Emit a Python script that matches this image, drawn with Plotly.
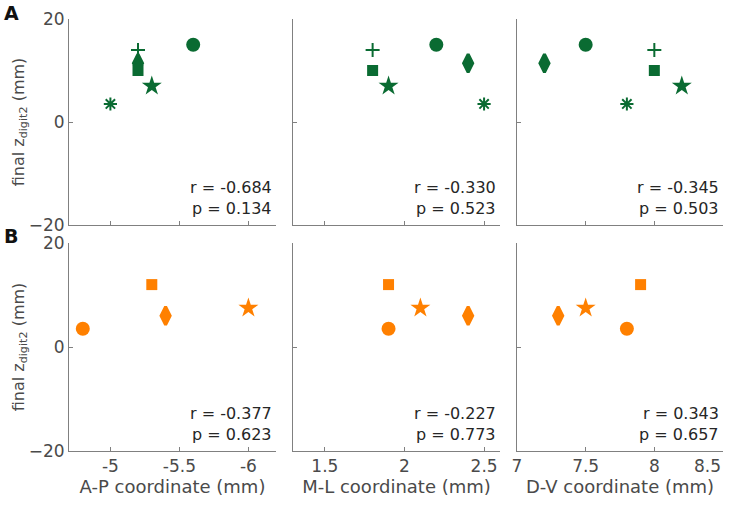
import plotly.graph_objects as go

# ---- data ----
symbols_A = ["circle", "cross-thin-open", "diamond-tall", "square", "star", "asterisk-open"]
ap_A = [-5.6, -5.2, -5.2, -5.2, -5.3, -5.0]
ml_A = [2.2, 1.8, 2.4, 1.8, 1.9, 2.5]
dv_A = [7.5, 8.0, 7.2, 8.0, 8.2, 7.8]
z_A = [15, 14, 11.4, 10, 7, 3.5]

symbols_B = ["circle", "square", "diamond-tall", "star"]
ap_B = [-4.8, -5.3, -5.4, -6.0]
ml_B = [1.9, 1.9, 2.4, 2.1]
dv_B = [7.8, 7.9, 7.3, 7.5]
z_B = [3.5, 12, 6, 7.5]

r_A = ["-0.684", "-0.330", "-0.345"]
p_A = ["0.134", "0.523", "0.503"]
r_B = ["-0.377", "-0.227", "0.343"]
p_B = ["0.623", "0.773", "0.657"]

x_titles = ["A-P coordinate (mm)", "M-L coordinate (mm)", "D-V coordinate (mm)"]
x_ranges = [[-4.7, -6.2], [1.3, 2.6], [7.0, 8.5]]
x_ticks = [[-5, -5.5, -6], [1.5, 2, 2.5], [7, 7.5, 8, 8.5]]
x_ticktext = [["-5", "-5.5", "-6"], ["1.5", "2", "2.5"], ["7", "7.5", "8", ""]]
edge_tick_val = 8.5
edge_tick_text = "8.5"
y_ticks = [-20, 0, 20]

GREEN = "#0a6b32"
ORANGE = "#ff8000"
FONT = "DejaVu Sans"
W, H = 729, 506

size_map = {"circle": 14, "cross-thin-open": 10, "diamond-tall": 13, "square": 11,
            "star": 15, "asterisk-open": 11}
line_map = {"circle": 0, "cross-thin-open": 2, "diamond-tall": 3, "square": 0,
            "star": 0, "asterisk-open": 2}

x_dom_px = [(69, 276), (293, 500), (517, 723)]
y_dom_px = [(19, 225), (243, 451)]

fig = go.Figure()

rows = [
    (symbols_A, [ap_A, ml_A, dv_A], z_A, GREEN, r_A, p_A),
    (symbols_B, [ap_B, ml_B, dv_B], z_B, ORANGE, r_B, p_B),
]

annotations = []
for ri, (syms, xs_list, zs, col, rs, ps) in enumerate(rows):
    for ci in range(3):
        idx = ri * 3 + ci + 1
        xa = "x" if idx == 1 else f"x{idx}"
        ya = "y" if idx == 1 else f"y{idx}"
        xs = xs_list[ci]
        for s, xv, zv in zip(syms, xs, zs):
            fig.add_trace(go.Scatter(
                x=[xv], y=[zv], mode="markers", xaxis=xa, yaxis=ya,
                showlegend=False, cliponaxis=False, hoverinfo="skip",
                marker=dict(symbol=s, size=size_map[s], color=col,
                            line=dict(color=col, width=line_map[s])),
            ))
        xl = "xaxis" if idx == 1 else f"xaxis{idx}"
        yl = "yaxis" if idx == 1 else f"yaxis{idx}"
        x0, x1 = x_dom_px[ci]
        y0, y1 = y_dom_px[ri]
        common = dict(showline=True, linecolor="#808080", linewidth=1,
                      ticks="inside", ticklen=4, tickcolor="#808080",
                      showgrid=False, zeroline=False, automargin=False,
                      tickfont=dict(family=FONT, size=17, color="#4a4a4a"))
        fig.layout[xl] = dict(
            domain=[x0 / W, x1 / W], range=x_ranges[ci], anchor=ya,
            tickvals=x_ticks[ci], ticktext=x_ticktext[ci],
            showticklabels=(ri == 1),
            title=dict(text=x_titles[ci] if ri == 1 else "",
                       font=dict(family=FONT, size=18, color="#4a4a4a"), standoff=4),
            **common)
        fig.layout[yl] = dict(
            domain=[1 - y1 / H, 1 - y0 / H], range=[-20, 20], anchor=xa,
            tickvals=y_ticks, showticklabels=(ci == 0),
            title=dict(text="final z<sub>digit2</sub> (mm)" if ci == 0 else "",
                       font=dict(family=FONT, size=16, color="#4a4a4a"), standoff=0),
            **common)
        annotations.append(dict(
            text=f"r = {rs[ci]}", xref=f"{xa} domain", yref=f"{ya} domain",
            x=0.99, y=0.18, xanchor="right", yanchor="middle", showarrow=False,
            font=dict(family=FONT, size=16, color="#262626")))
        annotations.append(dict(
            text=f"p = {ps[ci]}", xref=f"{xa} domain", yref=f"{ya} domain",
            x=0.99, y=0.08, xanchor="right", yanchor="middle", showarrow=False,
            font=dict(family=FONT, size=16, color="#262626")))
        if ri == 1 and ci == 2:
            # last tick label sits flush with the figure edge, as in the reference
            annotations.append(dict(
                text=edge_tick_text, xref=xa, yref="paper", x=edge_tick_val,
                y=1 - 466 / H, xanchor="right", yanchor="middle", showarrow=False,
                font=dict(family=FONT, size=17, color="#4a4a4a")))

annotations.append(dict(text="<b>A</b>", xref="paper", yref="paper", x=2 / W, y=1 - 13 / H,
                        xanchor="left", yanchor="middle", showarrow=False,
                        font=dict(family=FONT, size=19, color="#111111")))
annotations.append(dict(text="<b>B</b>", xref="paper", yref="paper", x=2 / W, y=1 - 236 / H,
                        xanchor="left", yanchor="middle", showarrow=False,
                        font=dict(family=FONT, size=19, color="#111111")))

fig.update_layout(
    width=W, height=H, margin=dict(l=0, r=0, t=0, b=0),
    paper_bgcolor="white", plot_bgcolor="white",
    annotations=annotations,
    font=dict(family=FONT),
)

fig.write_html("out.html", config={"displayModeBar": False},
               post_script="document.body.style.margin='0';document.body.style.overflow='hidden';")
